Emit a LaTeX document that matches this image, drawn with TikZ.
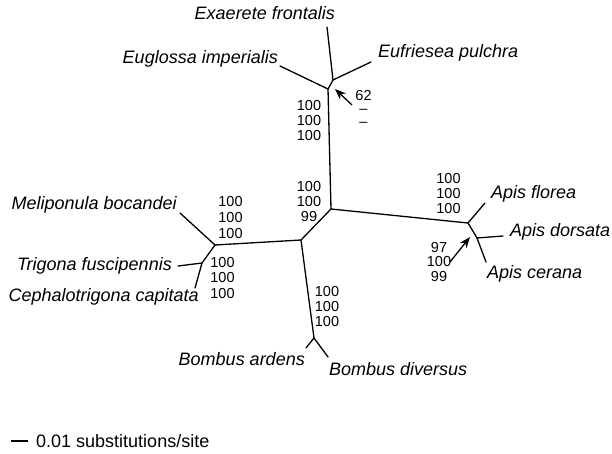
\documentclass[tikz,border=0pt]{standalone}
\usepackage{fontspec}
\setmainfont{Liberation Sans}
\usetikzlibrary{arrows.meta}
\begin{document}
\begin{tikzpicture}[x=1pt,y=-1pt,
  br/.style={line width=1.3pt, line cap=round},
  sp/.style={font=\fontsize{18}{20}\selectfont\itshape, inner sep=0pt},
  bs/.style={font=\fontsize{14.5}{15.5}\selectfont, inner sep=0pt, anchor=base},
  ar/.style={line width=1.3pt, -{Stealth[length=11pt,width=8.5pt]}}]
\useasboundingbox (0,0) rectangle (612,454);
% internal nodes
\coordinate (E) at (328,89);
\coordinate (E2) at (333,80);
\coordinate (B) at (331,209);
\coordinate (A) at (301,240);
\coordinate (M) at (215,245);
\coordinate (T) at (202,263);
\coordinate (Bo) at (314,338);
\coordinate (P) at (468,223);
\coordinate (P2) at (477,238);
% tips
\coordinate (exaT) at (327,27);
\coordinate (eugT) at (280,66);
\coordinate (eufT) at (371,62);
\coordinate (melT) at (180,213);
\coordinate (triT) at (178,266);
\coordinate (cepT) at (195,288);
\coordinate (barT) at (306,348);
\coordinate (divT) at (328,357);
\coordinate (floT) at (485,203);
\coordinate (dorT) at (503,236);
\coordinate (cerT) at (486,262);
% branches
\draw[br] (B) -- (E);
\draw[br] (E) -- (E2);
\draw[br] (E) -- (eugT);
\draw[br] (E2) -- (exaT);
\draw[br] (E2) -- (eufT);
\draw[br] (B) -- (A);
\draw[br] (B) -- (P);
\draw[br] (A) -- (M);
\draw[br] (A) -- (Bo);
\draw[br] (M) -- (melT);
\draw[br] (M) -- (T);
\draw[br] (T) -- (triT);
\draw[br] (T) -- (cepT);
\draw[br] (Bo) -- (barT);
\draw[br] (Bo) -- (divT);
\draw[br] (P) -- (floT);
\draw[br] (P) -- (P2);
\draw[br] (P2) -- (dorT);
\draw[br] (P2) -- (cerT);
% species labels
\node[sp, anchor=base east] (exa) at (335,20) {Exaerete frontalis};
\node[sp, anchor=base east] (eug) at (278,64) {Euglossa imperialis};
\node[sp, anchor=base west] (euf) at (378,58) {Eufriesea pulchra};
\node[sp, anchor=base east] (mel) at (177,210) {Meliponula bocandei};
\node[sp, anchor=base east] (tri) at (172,270) {Trigona fuscipennis};
\node[sp, anchor=base east] (cep) at (199,301) {Cephalotrigona capitata};
\node[sp, anchor=base east] (bar) at (305,365) {Bombus ardens};
\node[sp, anchor=base west] (div) at (329,375) {Bombus diversus};
\node[sp, anchor=base west] (flo) at (491,199) {Apis florea};
\node[sp, anchor=base west] (dor) at (510,236) {Apis dorsata};
\node[sp, anchor=base west] (cer) at (487,278) {Apis cerana};
% support values
\node[bs] (e1) at (309,111) {100};
\node[bs] (e2) at (309,126) {100};
\node[bs] (e3) at (309,141) {100};
\node[bs] (b1) at (309,192) {100};
\node[bs] (b2) at (309,207) {100};
\node[bs] (b3) at (309,222) {99};
\node[bs] (m1) at (230.5,207) {100};
\node[bs] (m2) at (230.5,222.5) {100};
\node[bs] (m3) at (230.5,238) {100};
\node[bs] (t1) at (222.5,267) {100};
\node[bs] (t2) at (222.5,282.5) {100};
\node[bs] (t3) at (222.5,298) {100};
\node[bs] (p1) at (448.5,184) {100};
\node[bs] (p2) at (448.5,199) {100};
\node[bs] (p3) at (448.5,214) {100};
\node[bs] (q1) at (439,252) {97};
\node[bs] (q2) at (439,266.5) {100};
\node[bs] (q3) at (439,281) {99};
\node[bs] (o1) at (327,296) {100};
\node[bs] (o2) at (327,311) {100};
\node[bs] (o3) at (327,326) {100};
\node[bs] (g1) at (363.5,101) {62};
\node[bs] (g2) at (363.5,114) {–};
\node[bs] (g3) at (363.5,127) {–};
% arrows
\coordinate (a1s) at (352,105);
\coordinate (a1e) at (335,89);
\coordinate (a2s) at (450,262);
\coordinate (a2e) at (470,237);
\draw[ar] (a1s) -- (a1e);
\draw[ar] (a2s) -- (a2e);
% scale bar
\coordinate (s0) at (11,441);
\coordinate (s1) at (28,441);
\draw[line width=1.3pt] (s0) -- (s1);
\node[bs, anchor=base west, font=\fontsize{18}{20}\selectfont] (scale) at (36,447) {0.01 substitutions/site};
\end{tikzpicture}
\end{document}
